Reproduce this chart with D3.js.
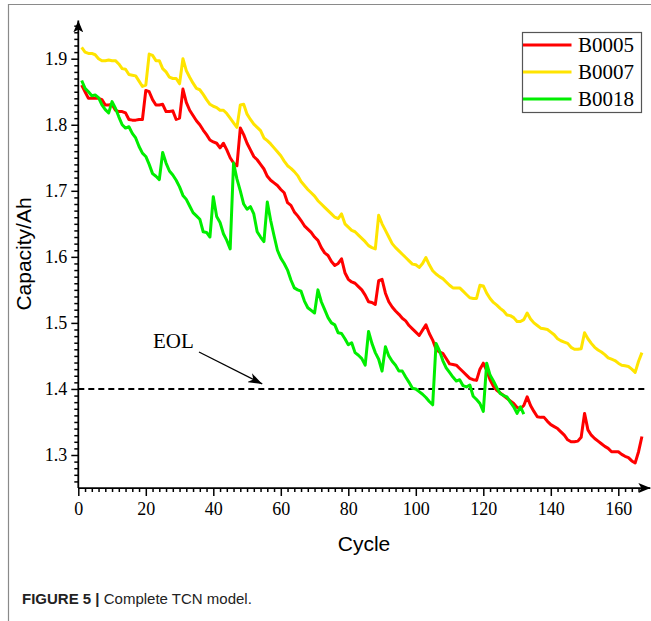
<!DOCTYPE html>
<html><head><meta charset="utf-8">
<script src="https://cdn.jsdelivr.net/npm/d3@7"></script>
<style>html,body{margin:0;padding:0;background:#fff;}svg{display:block;}</style>
</head><body>
<script>
const seriesNames = ["B0005", "B0007", "B0018"];
const seriesColors = ["#ff0000", "#ffe400", "#00ee00"];
const b0005 = [1.860,1.850,1.840,1.840,1.840,1.840,1.838,1.830,1.830,1.831,1.822,1.820,1.820,1.818,1.808,1.807,1.807,1.808,1.808,1.852,
1.850,1.838,1.830,1.830,1.831,1.820,1.820,1.821,1.808,1.810,1.854,1.834,1.822,1.814,1.806,1.800,1.792,1.785,1.777,1.774,
1.772,1.765,1.772,1.762,1.750,1.742,1.738,1.795,1.785,1.772,1.762,1.752,1.747,1.740,1.733,1.722,1.716,1.712,1.708,1.702,
1.697,1.682,1.678,1.668,1.662,1.655,1.647,1.642,1.637,1.630,1.625,1.614,1.606,1.602,1.593,1.587,1.590,1.597,1.576,1.566,
1.562,1.560,1.555,1.550,1.542,1.532,1.531,1.528,1.564,1.566,1.545,1.532,1.524,1.518,1.513,1.507,1.503,1.496,1.491,1.486,
1.481,1.489,1.497,1.484,1.474,1.460,1.456,1.454,1.446,1.438,1.437,1.436,1.431,1.426,1.421,1.416,1.414,1.413,1.430,1.439,
1.428,1.414,1.404,1.398,1.394,1.390,1.386,1.382,1.378,1.372,1.370,1.375,1.388,1.375,1.366,1.358,1.357,1.357,1.351,1.346,
1.343,1.340,1.335,1.330,1.323,1.320,1.320,1.321,1.327,1.363,1.338,1.330,1.325,1.321,1.317,1.313,1.310,1.305,1.305,1.305,
1.301,1.298,1.296,1.291,1.288,1.305,1.328];
const b0007 = [1.917,1.910,1.908,1.908,1.906,1.900,1.897,1.897,1.898,1.897,1.897,1.892,1.885,1.884,1.876,1.875,1.874,1.866,1.858,1.860,
1.907,1.905,1.897,1.897,1.885,1.880,1.872,1.870,1.870,1.862,1.900,1.882,1.872,1.863,1.855,1.853,1.846,1.838,1.831,1.828,
1.826,1.822,1.822,1.817,1.810,1.803,1.796,1.830,1.831,1.816,1.808,1.801,1.796,1.791,1.780,1.776,1.771,1.765,1.759,1.753,
1.745,1.738,1.734,1.729,1.723,1.714,1.708,1.702,1.697,1.692,1.685,1.680,1.675,1.670,1.665,1.660,1.658,1.665,1.650,1.645,
1.640,1.638,1.633,1.628,1.623,1.617,1.614,1.612,1.663,1.650,1.640,1.630,1.620,1.614,1.609,1.604,1.599,1.594,1.589,1.588,
1.584,1.590,1.599,1.588,1.579,1.574,1.570,1.567,1.562,1.557,1.553,1.553,1.553,1.548,1.543,1.538,1.537,1.537,1.557,1.556,
1.545,1.537,1.531,1.527,1.522,1.518,1.512,1.511,1.508,1.502,1.502,1.505,1.515,1.506,1.500,1.496,1.492,1.491,1.490,1.486,
1.482,1.476,1.473,1.471,1.469,1.463,1.460,1.460,1.461,1.485,1.476,1.469,1.463,1.459,1.456,1.452,1.447,1.445,1.443,1.439,
1.436,1.435,1.434,1.430,1.425,1.442,1.455];
const b0018 = [1.867,1.855,1.850,1.844,1.845,1.841,1.830,1.823,1.818,1.835,1.825,1.812,1.800,1.795,1.797,1.787,1.780,1.767,1.757,1.752,
1.740,1.726,1.722,1.717,1.758,1.742,1.730,1.724,1.716,1.706,1.693,1.687,1.677,1.667,1.662,1.657,1.638,1.637,1.630,1.691,
1.661,1.652,1.635,1.625,1.612,1.742,1.718,1.700,1.680,1.672,1.676,1.665,1.638,1.630,1.623,1.683,1.655,1.632,1.610,1.598,
1.590,1.580,1.565,1.553,1.550,1.548,1.533,1.523,1.519,1.515,1.550,1.532,1.520,1.508,1.500,1.497,1.485,1.484,1.476,1.467,
1.470,1.455,1.451,1.446,1.436,1.487,1.469,1.455,1.445,1.427,1.464,1.450,1.442,1.436,1.427,1.427,1.418,1.410,1.401,1.400,
1.396,1.392,1.387,1.381,1.376,1.469,1.458,1.443,1.432,1.425,1.418,1.412,1.414,1.405,1.403,1.406,1.389,1.384,1.378,1.366,
1.439,1.421,1.412,1.402,1.393,1.390,1.388,1.380,1.373,1.363,1.373,1.362];
const xTicks = [0, 20, 40, 60, 80, 100, 120, 140, 160];
const yTicks = [1.3, 1.4, 1.5, 1.6, 1.7, 1.8, 1.9];
const eolValue = 1.4;
const xDomainMax = 169.5;
const yDomainMax = 1.958;
const yDomainMin = 1.25;
const xLabel = "Cycle";
const yLabel = "Capacity/Ah";
const eolLabel = "EOL";
const captionBold = "FIGURE 5 | ";
const captionText = "Complete TCN model.";

const W = 651, H = 621;
const svg = d3.select("body").append("svg").attr("width", W).attr("height", H);
const x = d3.scaleLinear().domain([0, 160]).range([78.3, 618.3]);
const y = d3.scaleLinear().domain([1.3, 1.9]).range([455, 58.7]);

// frame
svg.append("line").attr("x1", 8).attr("x2", W).attr("y1", 4.5).attr("y2", 4.5).attr("stroke", "#8a8a8a").attr("stroke-width", 1.2);
svg.append("line").attr("x1", 8.5).attr("x2", 8.5).attr("y1", 4).attr("y2", H).attr("stroke", "#8a8a8a").attr("stroke-width", 1.2);

const defs = svg.append("defs");
defs.append("marker").attr("id", "ax").attr("viewBox", "0 0 12 10").attr("refX", 12).attr("refY", 5)
  .attr("markerWidth", 12).attr("markerHeight", 10).attr("markerUnits", "userSpaceOnUse").attr("orient", "auto")
  .append("path").attr("d", "M0,0 L12,5 L0,10 L3,5 Z").attr("fill", "#000");
defs.append("marker").attr("id", "eolarrow").attr("viewBox", "0 0 14 10").attr("refX", 14).attr("refY", 5)
  .attr("markerWidth", 14).attr("markerHeight", 10).attr("markerUnits", "userSpaceOnUse").attr("orient", "auto")
  .append("path").attr("d", "M0,0 L14,5 L0,10 L4,5 Z").attr("fill", "#000");

const y0 = y(yDomainMin);
// minor + major ticks via axes
const xMinor = d3.range(0, 168, 2).filter(v => v % 20 !== 0);
const gxMinor = svg.append("g").attr("transform", `translate(0,${y0})`)
  .call(d3.axisBottom(x).tickValues(xMinor).tickSize(4).tickFormat(""));
const gx = svg.append("g").attr("transform", `translate(0,${y0})`)
  .call(d3.axisBottom(x).tickValues(xTicks).tickSize(8).tickPadding(6).tickFormat(d3.format("d")));
const yMinor = d3.range(126, 196).map(v => v / 100).filter(v => Math.round(v * 100) % 10 !== 0);
const gyMinor = svg.append("g").attr("transform", `translate(${x(0)},0)`)
  .call(d3.axisLeft(y).tickValues(yMinor).tickSize(4).tickFormat(""));
const gy = svg.append("g").attr("transform", `translate(${x(0)},0)`)
  .call(d3.axisLeft(y).tickValues(yTicks).tickSize(7).tickPadding(4).tickFormat(d3.format(".1f")));
[gxMinor, gx, gyMinor, gy].forEach(g => {
  g.select(".domain").remove();
  g.selectAll(".tick line").attr("stroke", "#000").attr("stroke-width", 1.5);
  g.selectAll("text").attr("font-family", "'Liberation Serif','Times New Roman',serif").attr("font-size", 18).attr("fill", "#000");
});
gx.selectAll("text").attr("dy", "0.71em");

// axis lines with arrows
svg.append("line").attr("x1", x(0)).attr("x2", x(xDomainMax)).attr("y1", y0).attr("y2", y0)
  .attr("stroke", "#000").attr("stroke-width", 1.8).attr("marker-end", "url(#ax)");
svg.append("line").attr("x1", x(0)).attr("x2", x(0)).attr("y1", y0).attr("y2", y(yDomainMax))
  .attr("stroke", "#000").attr("stroke-width", 1.8).attr("marker-end", "url(#ax)");

// EOL line
svg.append("line").attr("x1", x(0)).attr("x2", x(168)).attr("y1", y(eolValue)).attr("y2", y(eolValue))
  .attr("stroke", "#000").attr("stroke-width", 2).attr("stroke-dasharray", "6,4");

// series
const line = d3.line().x((d, i) => x(i + 1)).y(d => y(d)).curve(d3.curveLinear);
[b0005, b0007, b0018].forEach((s, k) => {
  svg.append("path").datum(s).attr("d", line).attr("fill", "none")
    .attr("stroke", seriesColors[k]).attr("stroke-width", 3).attr("stroke-linejoin", "round");
});
// redraw order: green on top of red where overlapping (as in reference, green over red)

// EOL annotation
svg.append("text").attr("x", 153).attr("y", 348).text(eolLabel)
  .attr("font-family", "'Liberation Serif','Times New Roman',serif").attr("font-size", 21).attr("fill", "#000");
svg.append("line").attr("x1", 199).attr("y1", 352).attr("x2", x(54.5)).attr("y2", y(eolValue) - 5)
  .attr("stroke", "#000").attr("stroke-width", 1.3).attr("marker-end", "url(#eolarrow)");

// legend
const lg = svg.append("g");
lg.append("rect").attr("x", 522.5).attr("y", 32.5).attr("width", 119).attr("height", 80)
  .attr("fill", "#fff").attr("stroke", "#555").attr("stroke-width", 1.2);
seriesNames.forEach((n, i) => {
  const ly = 45 + i * 27;
  lg.append("line").attr("x1", 523).attr("x2", 571.5).attr("y1", ly).attr("y2", ly)
    .attr("stroke", seriesColors[i]).attr("stroke-width", 3);
  lg.append("text").attr("x", 578).attr("y", ly).attr("dy", "0.35em").text(n)
    .attr("font-family", "'Liberation Serif','Times New Roman',serif").attr("font-size", 21).attr("fill", "#000");
});

// axis titles
svg.append("text").attr("transform", "translate(31,254) rotate(-90)").attr("text-anchor", "middle").text(yLabel)
  .attr("font-family", "'Liberation Sans',Arial,sans-serif").attr("font-size", 21).attr("fill", "#000");
svg.append("text").attr("x", 364).attr("y", 551).attr("text-anchor", "middle").text(xLabel)
  .attr("font-family", "'Liberation Sans',Arial,sans-serif").attr("font-size", 21).attr("fill", "#000");

// caption
const cap = svg.append("text").attr("x", 22).attr("y", 604)
  .attr("font-family", "'Liberation Sans',Arial,sans-serif").attr("font-size", 15).attr("fill", "#222");
cap.append("tspan").attr("font-weight", "bold").text(captionBold);
cap.append("tspan").text(captionText);
</script>
</body></html>
